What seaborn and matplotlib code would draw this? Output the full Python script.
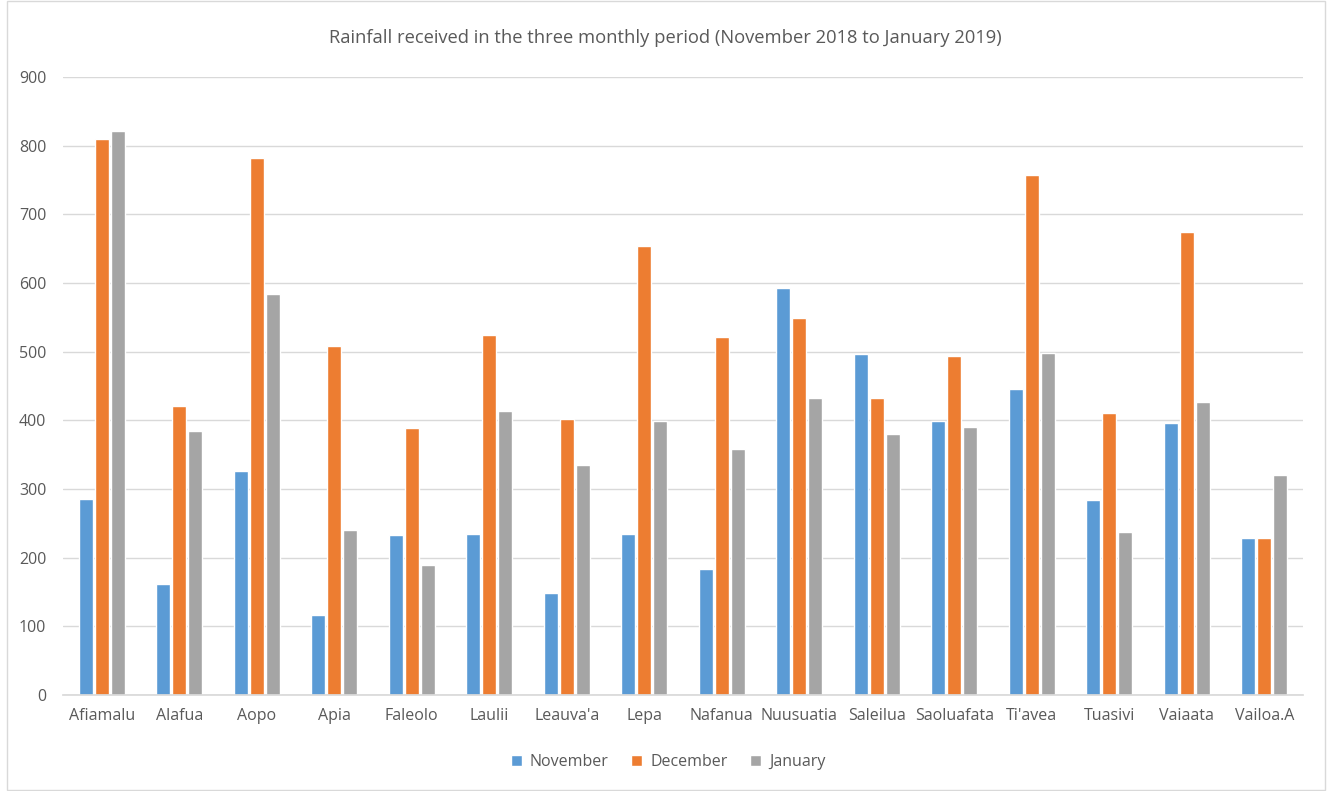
import matplotlib
matplotlib.use("Agg")
import matplotlib.pyplot as plt
import seaborn as sns
import pandas as pd
from matplotlib.patches import Rectangle

stations = ["Afiamalu", "Alafua", "Aopo", "Apia", "Faleolo", "Laulii", "Leauva'a",
            "Lepa", "Nafanua", "Nuusuatia", "Saleilua", "Saoluafata", "Ti'avea",
            "Tuasivi", "Vaiaata", "Vailoa.A"]
november = [286, 162, 326, 116, 233, 235, 149, 235, 184, 593, 496, 399, 445, 284, 396, 228]
december = [810, 421, 782, 508, 389, 524, 402, 654, 521, 549, 433, 494, 757, 410, 675, 228]
january = [822, 384, 584, 240, 189, 414, 335, 399, 358, 433, 380, 391, 498, 238, 426, 321]
months = ["November", "December", "January"]
colors = ["#5B9BD5", "#ED7D31", "#A5A5A5"]
yticks = [0, 100, 200, 300, 400, 500, 600, 700, 800, 900]

df = pd.DataFrame({"Station": stations * 3,
                   "Month": [m for m in months for _ in stations],
                   "Rain": november + december + january})

sns.set_theme(style="white")
plt.rcParams['font.family'] = ['Open Sans', 'DejaVu Sans']
txt = "#595959"

fig = plt.figure(figsize=(13.3, 7.91), dpi=100)
ax = fig.add_axes([63/1330, 1-695/791, (1303-63)/1330, (695-77)/791])

sns.barplot(data=df, x="Station", y="Rain", hue="Month", hue_order=months,
            palette=colors, width=0.62, gap=0.15, ax=ax, legend=True,
            saturation=1, errorbar=None)

ax.set_ylim(0, 900)
ax.set_xlim(-0.5, len(stations) - 0.5)
ax.set_yticks(yticks)
ax.set_yticklabels([str(v) for v in yticks])
ax.yaxis.grid(True, color="#D9D9D9", linewidth=1)
ax.set_axisbelow(True)
for s in ["top", "right", "left"]:
    ax.spines[s].set_visible(False)
ax.spines["bottom"].set_color("#D9D9D9")
ax.tick_params(axis="both", length=0, colors=txt, labelsize=11.5)
ax.tick_params(axis="y", pad=12)
ax.tick_params(axis="x", pad=9)
ax.set_xlabel("")
ax.set_ylabel("")

fig.text(665/1330, 1-38/791, "Rainfall received in the three monthly period (November 2018 to January 2019)",
         ha="center", va="center", fontsize=13.2, color=txt)

handles, labels = ax.get_legend_handles_labels()
ax.legend_.remove()
fig.legend(handles, labels, loc="center", bbox_to_anchor=(668/1330, 1-762/791), ncol=3,
           frameon=False, fontsize=11.5, labelcolor=txt, handlelength=0.7, handleheight=0.7,
           handletextpad=0.5, columnspacing=1.4)

fig.patches.append(Rectangle((7/1330, 1/791), (1325-7)/1330, 789/791, transform=fig.transFigure,
                             fill=False, edgecolor="#D9D9D9", linewidth=1))

fig.savefig("out.png", dpi=100)
